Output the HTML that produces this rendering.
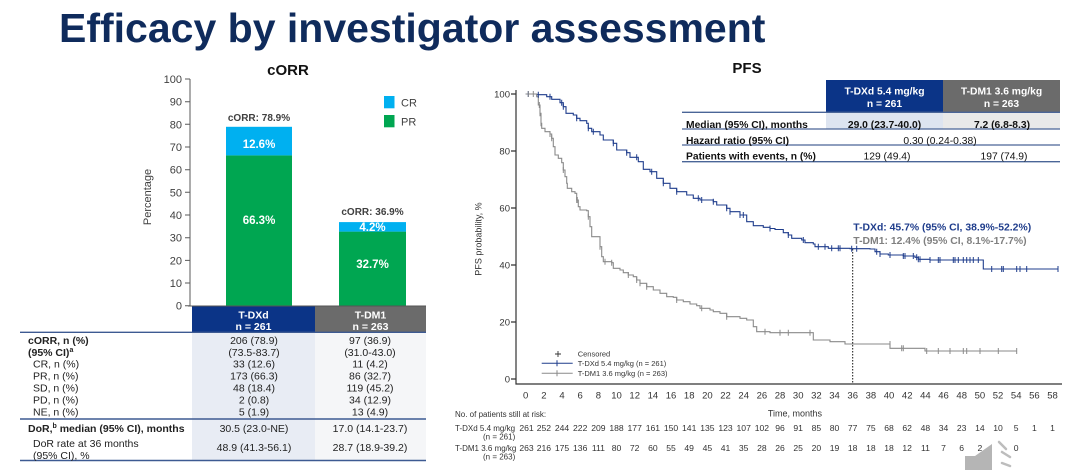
<!DOCTYPE html>
<html><head><meta charset="utf-8">
<style>
html,body{margin:0;padding:0;background:#fff;}
svg{display:block;}
text{font-family:"Liberation Sans",Arial,sans-serif;}
</style></head><body>
<svg width="1080" height="470" viewBox="0 0 1080 470" xmlns="http://www.w3.org/2000/svg">
<rect width="1080" height="470" fill="#fff"/>
<text x="59" y="42" font-size="41" font-weight="bold" fill="#0f2b5c">Efficacy by investigator assessment</text>

<!-- ===== cORR chart ===== -->
<text x="288" y="75" font-size="15" font-weight="bold" fill="#111" text-anchor="middle">cORR</text>
<g font-size="11" fill="#404040" text-anchor="end">
<text x="182" y="309.7">0</text>
<text x="182" y="287">10</text>
<text x="182" y="264.4">20</text>
<text x="182" y="241.7">30</text>
<text x="182" y="219">40</text>
<text x="182" y="196.3">50</text>
<text x="182" y="173.7">60</text>
<text x="182" y="151">70</text>
<text x="182" y="128.3">80</text>
<text x="182" y="105.7">90</text>
<text x="182" y="83">100</text>
</g>
<path d="M190,79 V306 M185,305.7 H190 M185,283 H190 M185,260.4 H190 M185,237.7 H190 M185,215 H190 M185,192.3 H190 M185,169.7 H190 M185,147 H190 M185,124.3 H190 M185,101.7 H190 M185,79 H190" stroke="#595959" stroke-width="1" fill="none"/>
<text transform="translate(151,197) rotate(-90)" font-size="11" fill="#404040" text-anchor="middle">Percentage</text>

<rect x="226" y="155.4" width="66" height="150.3" fill="#00a651"/>
<rect x="226" y="126.8" width="66" height="28.6" fill="#00b0f0"/>
<rect x="339" y="231.6" width="67" height="74.1" fill="#00a651"/>
<rect x="339" y="222.1" width="67" height="9.5" fill="#00b0f0"/>
<path d="M188,306 H426" stroke="#555" stroke-width="1"/>

<g font-weight="bold" text-anchor="middle">
<text x="259" y="121" font-size="10" fill="#404040">cORR: 78.9%</text>
<text x="259" y="148" font-size="11.5" fill="#fff">12.6%</text>
<text x="259" y="224" font-size="11.5" fill="#fff">66.3%</text>
<text x="372.5" y="215" font-size="10" fill="#404040">cORR: 36.9%</text>
<text x="372.5" y="231" font-size="11.5" fill="#fff">4.2%</text>
<text x="372.5" y="268" font-size="11.5" fill="#fff">32.7%</text>
</g>
<rect x="384" y="96" width="10.5" height="12.3" fill="#00b0f0"/>
<rect x="384" y="115" width="10.5" height="12.3" fill="#00a651"/>
<text x="401" y="106.5" font-size="11" fill="#404040">CR</text>
<text x="401" y="125.5" font-size="11" fill="#404040">PR</text>

<!-- ===== left table ===== -->
<rect x="192" y="332" width="123" height="128.5" fill="#e8ecf4"/>
<rect x="315" y="332" width="111" height="128.5" fill="#f5f6f8"/>
<rect x="192" y="306.5" width="123" height="25.5" fill="#0b3487"/>
<rect x="315" y="306.5" width="111" height="25.5" fill="#6b6b6b"/>
<g font-size="10.5" font-weight="bold" fill="#fff" text-anchor="middle">
<text x="253.5" y="318.5">T-DXd</text>
<text x="253.5" y="330">n = 261</text>
<text x="370.5" y="318.5">T-DM1</text>
<text x="370.5" y="330">n = 263</text>
</g>
<path d="M20,332.3 H426 M20,419 H426 M20,460.5 H426" stroke="#3d5a92" stroke-width="1.4"/>
<g font-size="10.5" fill="#222">
<text x="28" y="344" font-weight="bold">cORR, n (%)</text>
<text x="28" y="356" font-weight="bold">(95% CI)<tspan font-size="7" dy="-4">a</tspan></text>
<text x="33" y="367.5">CR, n (%)</text>
<text x="33" y="379.5">PR, n (%)</text>
<text x="33" y="391.5">SD, n (%)</text>
<text x="33" y="403.5">PD, n (%)</text>
<text x="33" y="415.5">NE, n (%)</text>
<text x="28" y="432" font-weight="bold">DoR,<tspan font-size="7" dy="-4">b</tspan><tspan dy="4"> median (95% CI), months</tspan></text>
<text x="33" y="447">DoR rate at 36 months</text>
<text x="33" y="459">(95% CI), %</text>
</g>
<g font-size="10.5" fill="#222" text-anchor="middle">
<text x="254" y="344">206 (78.9)</text>
<text x="254" y="356">(73.5-83.7)</text>
<text x="254" y="367.5">33 (12.6)</text>
<text x="254" y="379.5">173 (66.3)</text>
<text x="254" y="391.5">48 (18.4)</text>
<text x="254" y="403.5">2 (0.8)</text>
<text x="254" y="415.5">5 (1.9)</text>
<text x="254" y="432">30.5 (23.0-NE)</text>
<text x="254" y="451">48.9 (41.3-56.1)</text>
<text x="370" y="344">97 (36.9)</text>
<text x="370" y="356">(31.0-43.0)</text>
<text x="370" y="367.5">11 (4.2)</text>
<text x="370" y="379.5">86 (32.7)</text>
<text x="370" y="391.5">119 (45.2)</text>
<text x="370" y="403.5">34 (12.9)</text>
<text x="370" y="415.5">13 (4.9)</text>
<text x="370" y="432">17.0 (14.1-23.7)</text>
<text x="370" y="451">28.7 (18.9-39.2)</text>
</g>

<!-- ===== PFS ===== -->
<text x="747" y="73" font-size="15" font-weight="bold" fill="#111" text-anchor="middle">PFS</text>

<!-- right table -->
<rect x="826" y="80" width="117" height="32" fill="#0b3487"/>
<rect x="943" y="80" width="117" height="32" fill="#6b6b6b"/>
<g font-size="10.3" font-weight="bold" fill="#fff" text-anchor="middle">
<text x="884.5" y="94.5">T-DXd 5.4 mg/kg</text>
<text x="884.5" y="107">n = 261</text>
<text x="1001.5" y="94.5">T-DM1 3.6 mg/kg</text>
<text x="1001.5" y="107">n = 263</text>
</g>
<rect x="826" y="112" width="117" height="17" fill="#dde4f0"/>
<rect x="943" y="112" width="117" height="17" fill="#e9e9e9"/>
<path d="M682,112.3 H1060 M682,129 H1060 M682,145 H1060 M682,161.7 H1060" stroke="#4a6597" stroke-width="1.3"/>
<g font-size="10.3" fill="#111">
<text x="686" y="127.8" font-weight="bold">Median (95% CI), months</text>
<text x="686" y="143.8" font-weight="bold">Hazard ratio (95% CI)</text>
<text x="686" y="159.6" font-weight="bold">Patients with events, n (%)</text>
<text x="884.5" y="127.8" font-weight="bold" text-anchor="middle">29.0 (23.7-40.0)</text>
<text x="1002" y="127.8" font-weight="bold" text-anchor="middle">7.2 (6.8-8.3)</text>
<text x="940" y="143.8" text-anchor="middle">0.30 (0.24-0.38)</text>
<text x="887" y="159.6" text-anchor="middle">129 (49.4)</text>
<text x="1004" y="159.6" text-anchor="middle">197 (74.9)</text>
</g>

<!-- axes -->
<path d="M516,90 V384 H1062 M511,94 H516 M511,151 H516 M511,208 H516 M511,265 H516 M511,322 H516 M511,379 H516" stroke="#333" stroke-width="1.2" fill="none"/>
<g font-size="9.5" fill="#333" text-anchor="end">
<text x="510" y="97.5">100</text>
<text x="510" y="154.5">80</text>
<text x="510" y="211.5">60</text>
<text x="510" y="268.5">40</text>
<text x="510" y="325.5">20</text>
<text x="510" y="382.5">0</text>
</g>
<text transform="translate(481.5,239) rotate(-90)" font-size="9" fill="#333" text-anchor="middle">PFS probability, %</text>

<g font-size="9.5" fill="#333" text-anchor="middle">
<text x="525.7" y="398.5">0</text><text x="543.9" y="398.5">2</text><text x="562" y="398.5">4</text><text x="580.2" y="398.5">6</text><text x="598.4" y="398.5">8</text><text x="616.5" y="398.5">10</text><text x="634.7" y="398.5">12</text><text x="652.9" y="398.5">14</text><text x="671" y="398.5">16</text><text x="689.2" y="398.5">18</text><text x="707.4" y="398.5">20</text><text x="725.5" y="398.5">22</text><text x="743.7" y="398.5">24</text><text x="761.9" y="398.5">26</text><text x="780" y="398.5">28</text><text x="798.2" y="398.5">30</text><text x="816.4" y="398.5">32</text><text x="834.5" y="398.5">34</text><text x="852.7" y="398.5">36</text><text x="870.9" y="398.5">38</text><text x="889" y="398.5">40</text><text x="907.2" y="398.5">42</text><text x="925.4" y="398.5">44</text><text x="943.5" y="398.5">46</text><text x="961.7" y="398.5">48</text><text x="979.9" y="398.5">50</text><text x="998" y="398.5">52</text><text x="1016.2" y="398.5">54</text><text x="1034.4" y="398.5">56</text><text x="1052.5" y="398.5">58</text>
</g>

<!-- dotted line at 36 months -->
<path d="M852.7,249 V384" stroke="#111" stroke-width="1" stroke-dasharray="1.5,1.5"/>

<!-- curves -->
<path d="M525.7,94 H536.7 V94.7 H546.7 V96.7 H551.7 V99.3 H560 V102.7 H563.3 V106.7 H566 V113.3 H573.3 V115 H576.7 V118.3 H580 V120.7 H586.7 V123.3 H588.3 V128.3 H591.7 V131.7 H600 V135 H603.3 V140 H613.3 V143.3 H616.7 V150 H626.7 V152.7 H630 V157.3 H638.3 V161.7 H643.3 V169.3 H650 V171.7 H656.7 V178.3 H663.3 V183.3 H670 V188.3 H676.7 V191.7 H686.7 V195 H693.3 V198.3 H700 V200 H713.3 V201.7 H716.7 V205 H726.7 V208.3 H730 V211.7 H740 V215 H746.7 V221.7 H753.3 V225.7 H763.3 V227.3 H770 V228.5 H775 V229.5 H783.3 V232.7 H788.3 V235 H791.7 V238.3 H801.7 V240 H805 V242.7 H813.3 V244 H815 V246.7 H828.3 V248.3 H850 V248.7 H870 V249 H875 V251.7 H880 V254 H888.3 V255 H903.3 V256 H915 V257.3 H918.3 V259.3 H930 V260 H983.3 V269 H1058" stroke="#1f3d8c" stroke-width="1.1" fill="none"/>
<path d="M525.7,94 H535 H536.7 V96.7 H538.3 V105 H540 V113.3 H541 V123.3 H541.7 V128.3 H545 V131.7 H550 V134 H551.7 V138.3 H553.3 V146.7 H555 V155 H558.3 V158.3 H561.7 V162.7 H563.3 V170 H565 V176.7 H566.7 V183.3 H567.3 V188.3 H571.7 V191.7 H575 V193.3 H576.7 V200 H578.3 V206.7 H580 V210 H586.7 V210.7 H588.3 V216.7 H590 V226.7 H591.7 V236.7 H598.3 H600 V246.7 H601.7 V256.7 H603.3 V261.7 H611.7 V262.7 H613.3 V268.3 H620 V270 H623.3 V272.7 H628.3 V275 H633.3 V276.7 H636.7 V280 H640 V283.3 H646.7 V286.7 H653.3 V290 H660 V293.3 H666.7 V296.7 H673.3 V297.3 H676.7 V300 H683.3 V301.7 H690 V304 H696.7 V305.7 H700 V308.3 H710 V310 H713.3 V311.7 H720 V313.3 H726.7 V316.7 H740 V318.3 H746.7 V320 H753.3 V326.7 H756.7 V331.7 H770 V332.7 H813.3 V340 H830 V341.7 H845 V344 H890 V348.3 H925 V351 H1016.7" stroke="#8a8a8a" stroke-width="1.1" fill="none"/>

<!-- censor marks -->
<path stroke="#1f3d8c" stroke-width="1" fill="none" d="M528.3,91V97 M538.3,91.7V97.7 M550,93.7V99.7 M561.7,99.7V105.7 M563.3,103.7V109.7 M576.7,115.3V121.3 M588.3,125.3V131.3 M593.3,128.7V134.7 M613.3,140.3V146.3 M626.7,149.7V155.7 M636.7,154.3V160.3 M651.7,168.7V174.7 M663.3,180.3V186.3 M676.7,188.7V194.7 M698.3,195.3V201.3 M701.7,197V203 M713.3,198.7V204.7 M726.7,205.3V211.3 M730,208.7V214.7 M740,212V218 M743.3,212V218 M770,225.5V231.5 M788.3,232V238 M803.3,237V243 M818.3,243.7V249.7 M825,243.7V249.7 M831.7,245.3V251.3 M838.3,245.3V251.3 M840,245.3V251.3 M851.7,245.7V251.7 M856.7,245.7V251.7 M876.7,248.7V254.7 M880,251V257 M890,252V258 M903.3,253V259 M905,253V259 M913.3,253V259 M916.7,254.3V260.3 M918.3,256.3V262.3 M920,256.3V262.3 M930,257V263 M938.3,257V263 M940,257V263 M953.3,257V263 M955,257V263 M958.3,257V263 M963.3,257V263 M966.7,257V263 M970,257V263 M973.3,257V263 M978.3,257V263 M991.7,266V272 M1001.7,266V272 M1003.3,266V272 M1016.7,266V272 M1020,266V272 M1026.7,266V272 M1058,266V272"/>
<path stroke="#8a8a8a" stroke-width="1" fill="none" d="M528.3,91V97 M533.3,91V97 M539.3,102V108 M540,110.3V116.3 M541,120.3V126.3 M550,131V137 M551.7,135.3V141.3 M563.3,167V173 M576.7,197V203 M577.3,197V203 M588.3,213.7V219.7 M600,243.7V249.7 M605,258.7V264.7 M611.7,259.7V265.7 M628.3,272V278 M636.7,277V283 M640,280.3V286.3 M646.7,283.7V289.7 M676.7,297V303 M701.7,305.3V311.3 M726.7,313.7V319.7 M765,328.7V334.7 M780,329.7V335.7 M788.3,329.7V335.7 M810,329.7V335.7 M890,341V347 M901.7,345.3V351.3 M903.3,345.3V351.3 M926.7,348V354 M938.3,348V354 M950,348V354 M963.3,348V354 M966.7,348V354 M980,348V354 M998.3,348V354 M1016.7,348V354"/>

<!-- annotation -->
<text x="853.3" y="230.5" font-size="10.4" font-weight="bold" fill="#1f3d8c">T-DXd: 45.7% (95% CI, 38.9%-52.2%)</text>
<text x="853.3" y="244" font-size="10.4" font-weight="bold" fill="#808080">T-DM1: 12.4% (95% CI, 8.1%-17.7%)</text>

<!-- legend -->
<path d="M558,351V357 M555,354H561" stroke="#333" stroke-width="0.9"/>
<path d="M541.7,363.3H572.7 M557,360.3V366.3" stroke="#1f3d8c" stroke-width="1"/>
<path d="M541.7,373.3H572.7 M557,370.3V376.3" stroke="#8a8a8a" stroke-width="1"/>
<g font-size="7.5" fill="#333">
<text x="577.7" y="356.7">Censored</text>
<text x="577.7" y="366">T-DXd 5.4 mg/kg (n = 261)</text>
<text x="577.7" y="376">T-DM1 3.6 mg/kg (n = 263)</text>
</g>

<!-- at risk -->
<g font-size="8" fill="#333">
<text x="455" y="417">No. of patients still at risk:</text>
<text x="455" y="431">T-DXd 5.4 mg/kg</text>
<text x="483" y="439.5">(n = 261)</text>
<text x="455" y="451">T-DM1 3.6 mg/kg</text>
<text x="483" y="459.5">(n = 263)</text>
</g>
<text x="822" y="416.5" font-size="9" fill="#333" text-anchor="end">Time, months</text>
<g font-size="8.6" fill="#333" text-anchor="middle">
<text x="526.5" y="431">261</text><text x="543.9" y="431">252</text><text x="562" y="431">244</text><text x="580.2" y="431">222</text><text x="598.4" y="431">209</text><text x="616.5" y="431">188</text><text x="634.7" y="431">177</text><text x="652.9" y="431">161</text><text x="671" y="431">150</text><text x="689.2" y="431">141</text><text x="707.4" y="431">135</text><text x="725.5" y="431">123</text><text x="743.7" y="431">107</text><text x="761.9" y="431">102</text><text x="780" y="431">96</text><text x="798.2" y="431">91</text><text x="816.4" y="431">85</text><text x="834.5" y="431">80</text><text x="852.7" y="431">77</text><text x="870.9" y="431">75</text><text x="889" y="431">68</text><text x="907.2" y="431">62</text><text x="925.4" y="431">48</text><text x="943.5" y="431">34</text><text x="961.7" y="431">23</text><text x="979.9" y="431">14</text><text x="998" y="431">10</text><text x="1016.2" y="431">5</text><text x="1034.4" y="431">1</text><text x="1052.5" y="431">1</text>
<text x="526.5" y="451">263</text><text x="543.9" y="451">216</text><text x="562" y="451">175</text><text x="580.2" y="451">136</text><text x="598.4" y="451">111</text><text x="616.5" y="451">80</text><text x="634.7" y="451">72</text><text x="652.9" y="451">60</text><text x="671" y="451">55</text><text x="689.2" y="451">49</text><text x="707.4" y="451">45</text><text x="725.5" y="451">41</text><text x="743.7" y="451">35</text><text x="761.9" y="451">28</text><text x="780" y="451">26</text><text x="798.2" y="451">25</text><text x="816.4" y="451">20</text><text x="834.5" y="451">19</text><text x="852.7" y="451">18</text><text x="870.9" y="451">18</text><text x="889" y="451">18</text><text x="907.2" y="451">12</text><text x="925.4" y="451">11</text><text x="943.5" y="451">7</text><text x="961.7" y="451">6</text><text x="979.9" y="451">2</text><text x="1016.2" y="451">0</text>
</g>

<!-- speaker icon -->
<polygon points="965,456 975,456 992,444 992,470 965,470" fill="#b5b5b5"/>
<path d="M999,442 L1006,449 M1002,452 L1010,457 M1002,463 L1010,466" stroke="#bdbdbd" stroke-width="2.5" stroke-linecap="round"/>
</svg>
</body></html>
